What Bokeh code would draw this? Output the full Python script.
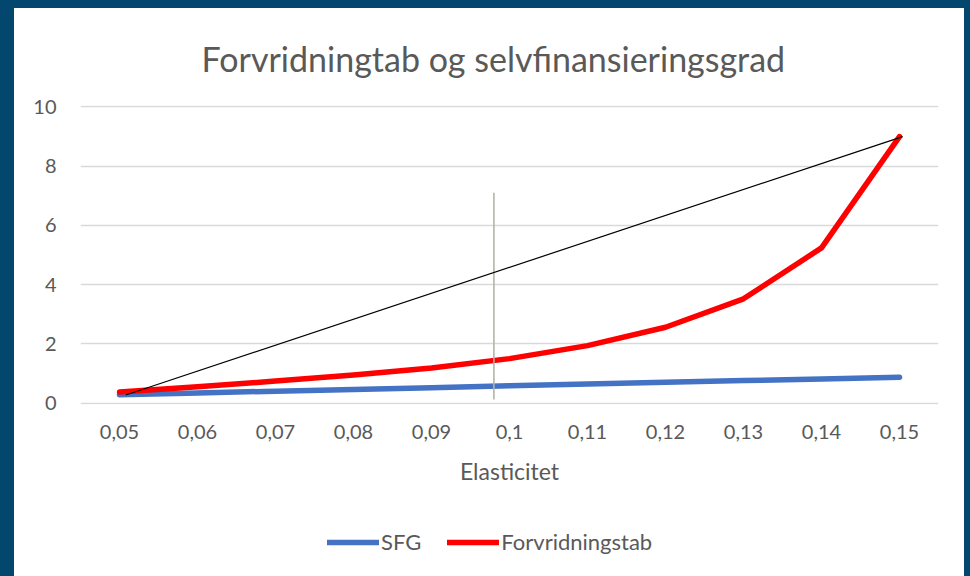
from bokeh.plotting import figure
from bokeh.models import Range1d, FixedTicker, Legend, LegendItem, Title
from bokeh.layouts import column
from bokeh.embed import file_html
from bokeh.resources import INLINE

# ---- data ----
elasticitet = ["0,05", "0,06", "0,07", "0,08", "0,09", "0,1", "0,11", "0,12", "0,13", "0,14", "0,15"]
sfg = [0.28, 0.34, 0.40, 0.46, 0.52, 0.58, 0.64, 0.70, 0.76, 0.81, 0.87]
forvridningstab = [0.37, 0.55, 0.74, 0.95, 1.18, 1.50, 1.94, 2.56, 3.52, 5.24, 9.00]
# hand-drawn annotation lines (category index, value)
diag_x = [0.08, 10.04]
diag_y = [0.27, 9.00]
vert_x = [4.80, 4.80]
vert_y = [0.12, 7.10]
y_ticks = [0, 2, 4, 6, 8, 10]
series_names = ["SFG", "Forvridningstab"]

FONT = "Lato"
GREY = "#595959"
BLUE_FRAME = "#03476F"
C_SFG = "#4472C4"
C_FV = "#FF0000"

idx = list(range(len(elasticitet)))

p = figure(width=950, height=502,
           x_range=Range1d(-0.5, 10.5), y_range=Range1d(-0.05, 10.05),
           output_backend="svg", toolbar_location=None,
           min_border_left=66, min_border_right=26, min_border_top=96, min_border_bottom=106,
           styles={"background-color": "white"})
p.background_fill_color = "white"
p.border_fill_color = "white"
p.outline_line_color = None

t = Title(text="Forvridningtab og selvfinansieringsgrad", align="left", offset=121,
          text_font=FONT, text_font_size="34px", text_font_style="normal",
          text_color=GREY, standoff=54)
p.add_layout(t, "above")

# axes
p.xaxis.ticker = FixedTicker(ticks=idx)
p.xaxis.major_label_overrides = {i: lab for i, lab in zip(idx, elasticitet)}
p.yaxis.ticker = FixedTicker(ticks=y_ticks)
for ax in (p.xaxis, p.yaxis):
    ax.axis_line_color = None
    ax.major_tick_line_color = None
    ax.minor_tick_line_color = None
    ax.major_label_text_font = FONT
    ax.major_label_text_font_size = "20px"
    ax.major_label_text_color = GREY
p.yaxis.major_label_standoff = 18
p.xaxis.major_label_standoff = 14
p.xaxis.axis_label = "Elasticitet"
p.xaxis.axis_label_text_font = FONT
p.xaxis.axis_label_text_font_size = "23px"
p.xaxis.axis_label_text_font_style = "normal"
p.xaxis.axis_label_text_color = GREY
p.xaxis.axis_label_standoff = 15

p.xgrid.visible = False
p.ygrid.ticker = FixedTicker(ticks=y_ticks)
p.ygrid.grid_line_color = "#D9D9D9"
p.ygrid.grid_line_width = 1.5

p.line(idx, sfg, line_color=C_SFG, line_width=5.5, line_cap="round", line_join="round")
p.line(idx, forvridningstab, line_color=C_FV, line_width=5.5, line_cap="round", line_join="round")
p.line(vert_x, vert_y, line_color="#B4B4AC", line_width=1.6)
p.line(diag_x, diag_y, line_color="black", line_width=1.2)

# legend strip below the chart (same series, view range kept away from the data)
p2 = figure(width=950, height=66, x_range=Range1d(-100, -99), y_range=Range1d(-100, -99),
            output_backend="svg", toolbar_location=None, min_border=0,
            x_axis_location=None, y_axis_location=None,
            styles={"background-color": "white"})
p2.background_fill_color = "white"
p2.border_fill_color = "white"
p2.outline_line_color = None
p2.grid.visible = False
l_sfg = p2.line(idx, sfg, line_color=C_SFG, line_width=5.5, line_cap="round")
l_fv = p2.line(idx, forvridningstab, line_color=C_FV, line_width=5.5, line_cap="round")

legend = Legend(items=[LegendItem(label=series_names[0], renderers=[l_sfg]),
                       LegendItem(label=series_names[1], renderers=[l_fv])],
                orientation="horizontal", location=(247, 21),
                label_text_font=FONT, label_text_font_size="22px", label_text_color=GREY,
                glyph_width=52, glyph_height=20, label_standoff=2, spacing=26,
                border_line_color=None, background_fill_alpha=0, margin=0, padding=0)
p2.add_layout(legend, "center")

root = column(p, p2, spacing=0,
              styles={"background-color": BLUE_FRAME, "margin-left": "-8px", "margin-top": "-8px",
                      "padding-left": "22px", "padding-top": "16px", "padding-right": "6px"})

open("out.html", "w").write(file_html(root, INLINE))
